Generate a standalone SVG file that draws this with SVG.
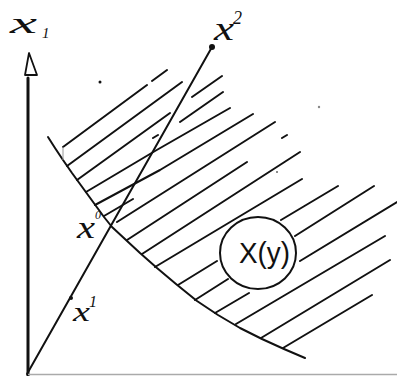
<svg xmlns="http://www.w3.org/2000/svg" width="397" height="376" viewBox="0 0 397 376">
<style>
.ln{fill:none;stroke:#111;stroke-width:2;stroke-linecap:round;stroke-linejoin:round}
.ax{fill:none;stroke:#111;stroke-width:3;stroke-linecap:round}
.t{font-family:"Liberation Serif","DejaVu Serif",serif;font-style:italic;fill:#111}
.lbl{font-family:"Liberation Sans","DejaVu Sans",sans-serif;fill:#111}
</style>
<rect width="397" height="376" fill="#fff"/>
<g id="axis">
<line class="ax" x1="28" y1="78" x2="28" y2="376"/>
<path d="M29,53 L25,75 L37,75 Z" fill="none" stroke="#111" stroke-width="1.8" stroke-linejoin="round"/>
<text class="t" x="10" y="33" font-size="30" textLength="27" lengthAdjust="spacingAndGlyphs">x</text>
<text class="t" x="42" y="38" font-size="15">1</text>
</g>
<g id="region">
<polyline class="ln" points="48,137 55,148 63,160 72,173 80,184 88,195 96,206 104,217 112,227 126,240 140,253 157,268 176,284 197,301 218,315 240,328 262,339 284,349 305,358"/>
<path class="ln" d="M63,147 L147,85 M152,81 L167,70 M67,166 L182,82 M77,180 L170,113 M192,97 L222,76 M153,138 L158,135 M180,122 L223,92 M86,192 L155,151 L230,108 M95,205 L160,170 L253,114 M104,216 L133,199 M117,222 L275,122 M127,240 L247,162 M282,138 L287,135 M142,254 L300,152 M155,267 L302,179 M178,285 L217,261 M281,220 L338,186 M195,300 L228,279 M295,236 L374,186 M215,313 L249,293 M300,261 L397,202 M236,324 L385,236 M261,338 L390,260 M283,348 L372,295"/>
<line x1="63" y1="147" x2="63" y2="160" stroke="#999" stroke-width="1"/>
</g>
<g id="set-label">
<ellipse cx="258" cy="253" rx="38" ry="36" fill="#fff" stroke="#111" stroke-width="2"/>
<text class="lbl" x="239" y="263" font-size="30" textLength="51" lengthAdjust="spacingAndGlyphs">X(y)</text>
</g>
<g id="connectors">
<line class="ln" x1="27" y1="374" x2="212" y2="47"/>
</g>
<g id="point-x2">
<circle cx="212" cy="47" r="3" fill="#111"/>
<text class="t" x="214" y="40" font-size="34" textLength="20" lengthAdjust="spacingAndGlyphs">x</text>
<text class="t" x="233" y="24" font-size="18">2</text>
</g>
<g id="point-x0">
<text class="t" x="77" y="238" font-size="32" textLength="18" lengthAdjust="spacingAndGlyphs">x</text>
<text class="t" x="95" y="219" font-size="12">0</text>
</g>
<g id="point-x1">
<circle cx="71" cy="298" r="2" fill="#111"/>
<text class="t" x="73" y="321" font-size="28" textLength="17" lengthAdjust="spacingAndGlyphs">x</text>
<text class="t" x="89" y="307" font-size="16">1</text>
</g>
<circle cx="100" cy="82" r="1.5" fill="#111"/>
<circle cx="319" cy="107" r="1.2" fill="#888"/>
<circle cx="277" cy="172" r="1" fill="#666"/>
<line x1="28" y1="374.5" x2="397" y2="374.5" stroke="#aaa" stroke-width="1.5"/>
</svg>
